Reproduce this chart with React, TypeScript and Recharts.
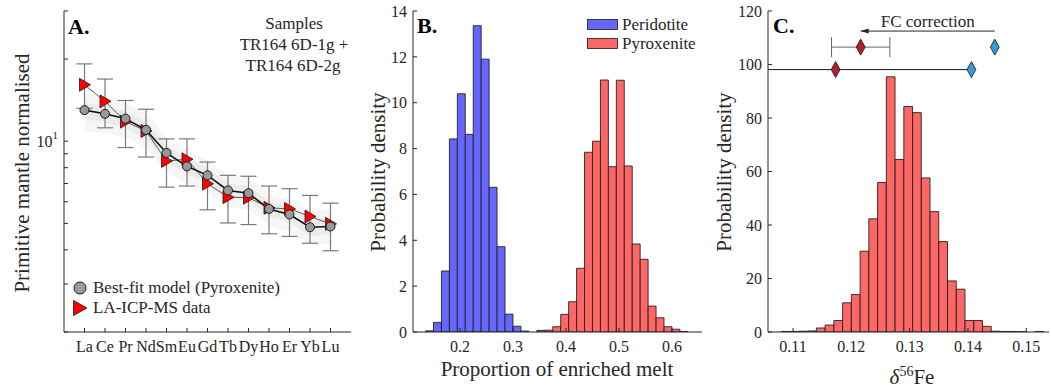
import React from 'react';
import {
  ComposedChart, Bar, Line, Area, Scatter, XAxis, YAxis, ErrorBar, ReferenceLine, Legend,
} from 'recharts';

const font = '"Liberation Serif", "Times New Roman", serif';
const ink = '#262626';

// panel A: primitive-mantle normalised REE
const elements = ['La', 'Ce', 'Pr', 'Nd', 'Sm', 'Eu', 'Gd', 'Tb', 'Dy', 'Ho', 'Er', 'Yb', 'Lu'];
const modelValues = [13.0, 12.6, 12.1, 11.0, 9.06, 8.09, 7.5, 6.6, 6.45, 5.65, 5.39, 4.84, 4.87];
const icpValues = [16.1, 14.0, 11.8, 10.9, 8.47, 8.59, 6.99, 6.24, 6.21, 5.7, 5.65, 5.3, 4.98];
const icpLow = [13.2, 11.2, 9.48, 8.75, 6.79, 6.85, 5.61, 5.02, 4.95, 4.58, 4.48, 4.23, 3.97];
const icpHigh = [19.2, 16.9, 14.1, 13.1, 10.2, 10.2, 8.39, 7.5, 7.44, 6.85, 6.7, 6.33, 5.93];
const outerLow = [10.9, 10.7, 10.3, 9.4, 7.8, 7.0, 6.5, 5.75, 5.6, 4.9, 4.65, 4.2, 4.2];
const outerHigh = [15.0, 14.4, 13.8, 12.7, 10.4, 9.2, 8.55, 7.5, 7.35, 6.45, 6.15, 5.55, 5.6];
const innerLow = [12.0, 11.7, 11.2, 10.2, 8.4, 7.55, 7.0, 6.2, 6.05, 5.3, 5.05, 4.5, 4.55];
const innerHigh = [13.9, 13.5, 12.9, 11.8, 9.7, 8.65, 8.0, 7.0, 6.85, 6.0, 5.75, 5.15, 5.2];
const logTicks = [2, 3, 4, 5, 6, 7, 8, 9, 10, 20, 30];

// panel B: proportion of enriched melt histograms (bin width 0.015)
const meltBins = [
  0.1425, 0.1575, 0.1725, 0.1875, 0.2025, 0.2175, 0.2325, 0.2475, 0.2625, 0.2775, 0.2925,
  0.3075, 0.3225, 0.3375, 0.3525, 0.3675, 0.3825, 0.3975, 0.4125, 0.4275, 0.4425, 0.4575,
  0.4725, 0.4875, 0.5025, 0.5175, 0.5325, 0.5475, 0.5625, 0.5775, 0.5925, 0.6075, 0.6225,
];
const peridotite = [
  0.05, 0.42, 2.66, 8.42, 10.39, 8.62, 13.36, 11.9, 6.31, 3.72, 0.78,
  0.25, 0.04, 0, 0, 0, 0, 0, 0, 0, 0, 0,
  0, 0, 0, 0, 0, 0, 0, 0, 0, 0, 0,
];
const pyroxenite = [
  0, 0, 0, 0, 0, 0, 0, 0, 0, 0, 0,
  0, 0, 0, 0.07, 0.08, 0.23, 0.77, 1.32, 2.78, 7.84, 8.32,
  10.99, 7.21, 10.98, 7.24, 3.84, 3.17, 1.13, 0.62, 0.23, 0.12, 0.02,
];
const meltDomain = [0.1113, 0.6566];
const meltBinWidth = 0.015;

// panel C: d56Fe histogram (bin width 0.0015)
const feBins = [
  0.10875, 0.11025, 0.11175, 0.11325, 0.11475, 0.11625, 0.11775, 0.11925, 0.12075, 0.12225,
  0.12375, 0.12525, 0.12675, 0.12825, 0.12975, 0.13125, 0.13275, 0.13425, 0.13575, 0.13725,
  0.13875, 0.14025, 0.14175, 0.14325, 0.14475, 0.14625, 0.14775, 0.14925, 0.15075, 0.15225,
];
const feDensity = [
  0.2, 0.2, 0.3, 0.4, 1.5, 2.6, 4.3, 10.9, 14.0, 30.2,
  42.3, 55.9, 95.4, 64.5, 84.3, 82.0, 57.6, 45.0, 33.8, 19.1,
  16.0, 4.3, 4.3, 2.1, 0.3, 0.2, 0.2, 0.1, 0, 0.2,
];
const feDomain = [0.1057, 0.1539];
const feBinWidth = 0.0015;
const diamondY = [106.5, 98.1];
const feCorrected = [0.1216, 0.1173];
const feCorrectedErr = [0.005, 0.0234];
const feMeasured = [0.1446, 0.1406];
const arrowY = 112.5;

const tickStyle = { fontSize: 16, fill: ink, fontFamily: font };
const frame = { stroke: ink, strokeWidth: 1 };
const noLabel = () => <g />;

const PowerTick = (p: any) => {
  if (p.payload.value !== 10) return <g />;
  return (
    <text x={p.x} y={p.y + 6} textAnchor="end" fill={ink} fontSize={16} fontFamily={font}>
      10<tspan dy={-8} fontSize={11}>1</tspan>
    </text>
  );
};

const Note = ({ x, y, size = 17, bold = false, rotate = false, left = false, children }: any) => (
  <div
    style={{
      position: 'absolute', left: x, top: y, fontSize: size, fontWeight: bold ? 'bold' : 'normal',
      lineHeight: 1, whiteSpace: 'nowrap', color: bold ? '#000' : ink,
      transform: rotate ? 'translate(-50%,-50%) rotate(-90deg)' : left ? 'translate(0,-50%)' : 'translate(-50%,-50%)',
    }}
  >
    {children}
  </div>
);

function PanelA() {
  const rows = elements.map((el, i) => ({
    x: i + 1,
    model: modelValues[i],
    icp: icpValues[i],
    icpErr: [icpValues[i] - icpLow[i], icpHigh[i] - icpValues[i]],
    outer: [outerLow[i], outerHigh[i]],
    inner: [innerLow[i], innerHigh[i]],
  }));
  const ticks = elements.map((el, i) => i + 1);

  const legendA = (props: any) => {
    const items = [...(props.payload ?? [])]
      .filter((p: any) => p.dataKey === 'model' || p.dataKey === 'icp')
      .sort((a: any, b: any) => (a.dataKey === 'model' ? 0 : 1) - (b.dataKey === 'model' ? 0 : 1));
    return (
      <div style={{ fontFamily: font, fontSize: 17, color: ink }}>
        {items.map((it: any) => (
          <div key={it.value} style={{ display: 'flex', alignItems: 'center', height: 20 }}>
            <svg width={16} height={20}>
              {it.dataKey === 'model'
                ? <circle cx={8} cy={10} r={6} fill="#999" stroke="#1a1a1a" strokeWidth={1} />
                : <polygon points="1.5,2.5 1.5,17.5 15,10" fill="#ff0000" stroke="#1a1a1a" strokeWidth={0.8} />}
            </svg>
            <span style={{ marginLeft: 5, lineHeight: '20px' }}>{it.value}</span>
          </div>
        ))}
      </div>
    );
  };

  return (
    <ComposedChart width={360} height={391} data={rows} margin={{ top: 11, right: 9, bottom: 0, left: 0 }}>
      <XAxis dataKey="x" type="number" domain={[0, 14]} ticks={ticks} allowDataOverflow interval={0}
        tickFormatter={(v: number) => elements[v - 1]} tickSize={-4} tickMargin={13} height={59}
        tick={tickStyle} axisLine={frame} tickLine={frame} />
      <XAxis xAxisId="top" orientation="top" type="number" domain={[0, 14]} ticks={ticks} allowDataOverflow
        interval={0} height={0} tickSize={-4} tick={noLabel} axisLine={frame} tickLine={frame} />
      <YAxis type="number" scale="log" domain={[2, 30]} ticks={logTicks} allowDataOverflow interval={0}
        width={64} tickSize={-4} tickMargin={10} tick={<PowerTick />} axisLine={frame} tickLine={frame} />
      <YAxis yAxisId="right" orientation="right" type="number" scale="log" domain={[2, 30]} ticks={logTicks}
        allowDataOverflow interval={0} width={0} tickSize={-4} tick={noLabel} axisLine={frame} tickLine={frame} />
      <Area dataKey="outer" stroke="none" fill="#000" fillOpacity={0.035} legendType="none" isAnimationActive={false} />
      <Area dataKey="inner" stroke="none" fill="#000" fillOpacity={0.045} legendType="none" isAnimationActive={false} />
      <Line dataKey="icp" name="LA-ICP-MS data" stroke="#333" strokeWidth={0.8} isAnimationActive={false}
        dot={(p: any) => (
          <polygon key={`t${p.index}`} fill="#ff0000" stroke="#1a1a1a" strokeWidth={0.8}
            points={`${p.cx - 5},${p.cy - 6.5} ${p.cx - 5},${p.cy + 6.5} ${p.cx + 6},${p.cy}`} />
        )}>
        <ErrorBar dataKey="icpErr" stroke="#7a7a7a" strokeWidth={1.2} width={8} />
      </Line>
      <Line dataKey="model" name="Best-fit model (Pyroxenite)" stroke="#111" strokeWidth={1.6} isAnimationActive={false}
        dot={(p: any) => (
          <circle key={`c${p.index}`} cx={p.cx} cy={p.cy} r={4.5} fill="#999" stroke="#1a1a1a" strokeWidth={1} />
        )} />
      <Legend layout="vertical" align="center" verticalAlign="middle" content={legendA}
        wrapperStyle={{ left: 72, top: 278, width: 270 }} />
    </ComposedChart>
  );
}

function PanelB() {
  const rows = meltBins.map((x, i) => ({ x, peridotite: peridotite[i], pyroxenite: pyroxenite[i] }));
  const plotWidth = 360 - 63 - 8;
  const barSize = (plotWidth * meltBinWidth) / (meltDomain[1] - meltDomain[0]) - 0.05;
  const yTicks = [0, 2, 4, 6, 8, 10, 12, 14];
  const xTicks = [0.2, 0.3, 0.4, 0.5, 0.6];

  const legendB = (props: any) => (
    <div style={{ fontFamily: font, fontSize: 17, color: ink }}>
      {(props.payload ?? []).map((it: any) => (
        <div key={it.value} style={{ display: 'flex', alignItems: 'center', height: 19 }}>
          <svg width={31} height={19}>
            <rect x={0.5} y={4.5} width={30} height={10} fill={it.color} stroke="#1a1a1a" strokeWidth={0.8} />
          </svg>
          <span style={{ marginLeft: 4, lineHeight: '19px' }}>{it.value}</span>
        </div>
      ))}
    </div>
  );

  return (
    <ComposedChart width={360} height={391} data={rows} margin={{ top: 11, right: 8, bottom: 0, left: 0 }}
      barGap={0} barCategoryGap={0}>
      <XAxis dataKey="x" type="number" domain={meltDomain} ticks={xTicks} allowDataOverflow interval={0}
        tickFormatter={(v: number) => v.toFixed(1)} tickSize={-4} tickMargin={13} height={59}
        tick={tickStyle} axisLine={frame} tickLine={frame} />
      <XAxis xAxisId="top" orientation="top" type="number" domain={meltDomain} ticks={xTicks} allowDataOverflow
        interval={0} height={0} tickSize={-4} tick={noLabel} axisLine={frame} tickLine={frame} />
      <YAxis type="number" domain={[0, 14]} ticks={yTicks} allowDataOverflow interval={0} width={63}
        tickSize={-4} tickMargin={10} tick={tickStyle} axisLine={frame} tickLine={frame} />
      <YAxis yAxisId="right" orientation="right" type="number" domain={[0, 14]} ticks={yTicks} allowDataOverflow
        interval={0} width={0} tickSize={-4} tick={noLabel} axisLine={frame} tickLine={frame} />
      <Bar dataKey="peridotite" name="Peridotite" stackId="h" fill="#6666ff" stroke="#222" strokeWidth={0.9}
        barSize={barSize} isAnimationActive={false} />
      <Bar dataKey="pyroxenite" name="Pyroxenite" stackId="h" fill="#ff6666" stroke="#222" strokeWidth={0.9}
        barSize={barSize} isAnimationActive={false} />
      <Legend layout="vertical" align="center" verticalAlign="middle" content={legendB}
        wrapperStyle={{ left: 237, top: 14.5, width: 120 }} />
    </ComposedChart>
  );
}

const diamond = (fill: string) => (p: any) => (
  <path d={`M${p.cx},${p.cy - 8}L${p.cx + 4.4},${p.cy}L${p.cx},${p.cy + 8}L${p.cx - 4.4},${p.cy}Z`}
    fill={fill} stroke="#111" strokeWidth={0.8} />
);

const arrowShape = (p: any) => (
  <g>
    <line x1={p.x1} y1={p.y1} x2={p.x2} y2={p.y2} stroke={ink} strokeWidth={1} />
    <path d={`M${p.x2},${p.y2}l8,-2.5l0,5z`} fill={ink} />
  </g>
);

function PanelC() {
  const rows = feBins.map((x, i) => ({ x, density: feDensity[i] }));
  const corrected = feCorrected.map((x, i) => ({ x, y: diamondY[i], err: feCorrectedErr[i] }));
  const measured = feMeasured.map((x, i) => ({ x, y: diamondY[i] }));
  const plotWidth = 351 - 68 - 2;
  const barSize = (plotWidth * feBinWidth) / (feDomain[1] - feDomain[0]) - 0.05;
  const yTicks = [0, 20, 40, 60, 80, 100, 120];
  const xTicks = [0.11, 0.12, 0.13, 0.14, 0.15];

  return (
    <ComposedChart width={351} height={391} data={rows} margin={{ top: 11, right: 2, bottom: 0, left: 0 }}
      barGap={0} barCategoryGap={0}>
      <XAxis dataKey="x" type="number" domain={feDomain} ticks={xTicks} allowDataOverflow interval={0}
        tickFormatter={(v: number) => v.toFixed(2)} tickSize={-4} tickMargin={13} height={59}
        tick={tickStyle} axisLine={frame} tickLine={frame} />
      <XAxis xAxisId="top" dataKey="x" orientation="top" type="number" domain={feDomain} ticks={xTicks} allowDataOverflow
        interval={0} height={0} tickSize={-4} tick={noLabel} axisLine={frame} tickLine={frame} />
      <YAxis type="number" domain={[0, 120]} ticks={yTicks} allowDataOverflow interval={0} width={68}
        tickSize={-4} tickMargin={10} tick={tickStyle} axisLine={frame} tickLine={frame} />
      <YAxis yAxisId="right" orientation="right" type="number" domain={[0, 120]} ticks={yTicks} allowDataOverflow
        interval={0} width={0} tickSize={-4} tick={noLabel} axisLine={frame} tickLine={frame} />
      <Bar dataKey="density" fill="#ff6666" stroke="#222" strokeWidth={0.9} barSize={barSize} isAnimationActive={false} />
      {/* wide error bar of the lower corrected value runs past the left axis */}
      <ReferenceLine ifOverflow="hidden" stroke="#1a1a1a" strokeWidth={1}
        segment={[
          { x: feCorrected[1] - feCorrectedErr[1], y: diamondY[1] },
          { x: feCorrected[1] + feCorrectedErr[1], y: diamondY[1] },
        ]} />
      <Scatter xAxisId="top" data={corrected.slice(1)} dataKey="y" shape={diamond('#b31f2b')} isAnimationActive={false} />
      <Scatter xAxisId="top" data={corrected.slice(0, 1)} dataKey="y" shape={diamond('#b31f2b')} isAnimationActive={false}>
        <ErrorBar dataKey="err" direction="x" stroke="#666" strokeWidth={1} width={10} />
      </Scatter>
      <Scatter xAxisId="top" data={measured} dataKey="y" shape={diamond('#3a9ad9')} isAnimationActive={false} />
      <ReferenceLine segment={[{ x: feMeasured[0], y: arrowY }, { x: feCorrected[0], y: arrowY }]}
        shape={arrowShape}
        label={{ value: 'FC correction', position: 'top', offset: 4, fill: ink, fontSize: 17, fontFamily: font }} />
    </ComposedChart>
  );
}

export default function App() {
  return (
    <div style={{ position: 'absolute', left: 0, top: 0, width: 1051, height: 391, background: '#fff', fontFamily: font, color: ink }}>
      <div style={{ position: 'absolute', left: 0, top: 0 }}><PanelA /></div>
      <div style={{ position: 'absolute', left: 350, top: 0 }}><PanelB /></div>
      <div style={{ position: 'absolute', left: 700, top: 0 }}><PanelC /></div>

      <Note x={68} y={27} size={22} bold left>A.</Note>
      <Note x={417} y={26} size={22} bold left>B.</Note>
      <Note x={773} y={26} size={22} bold left>C.</Note>

      <Note x={294} y={23}>Samples</Note>
      <Note x={294} y={44}>TR164 6D-1g +</Note>
      <Note x={293} y={65}>TR164 6D-2g</Note>

      <Note x={22} y={173} size={21} rotate>Primitive mantle normalised</Note>
      <Note x={378} y={172} size={21} rotate>Probability density</Note>
      <Note x={724} y={172} size={21} rotate>Probability density</Note>
      <Note x={557} y={369} size={21}>Proportion of enriched melt</Note>
      <Note x={912} y={377} size={21}>
        <span style={{ fontStyle: 'italic' }}>δ</span>
        <span style={{ fontSize: 14, verticalAlign: 'super', lineHeight: 0 }}>56</span>Fe
      </Note>
    </div>
  );
}
